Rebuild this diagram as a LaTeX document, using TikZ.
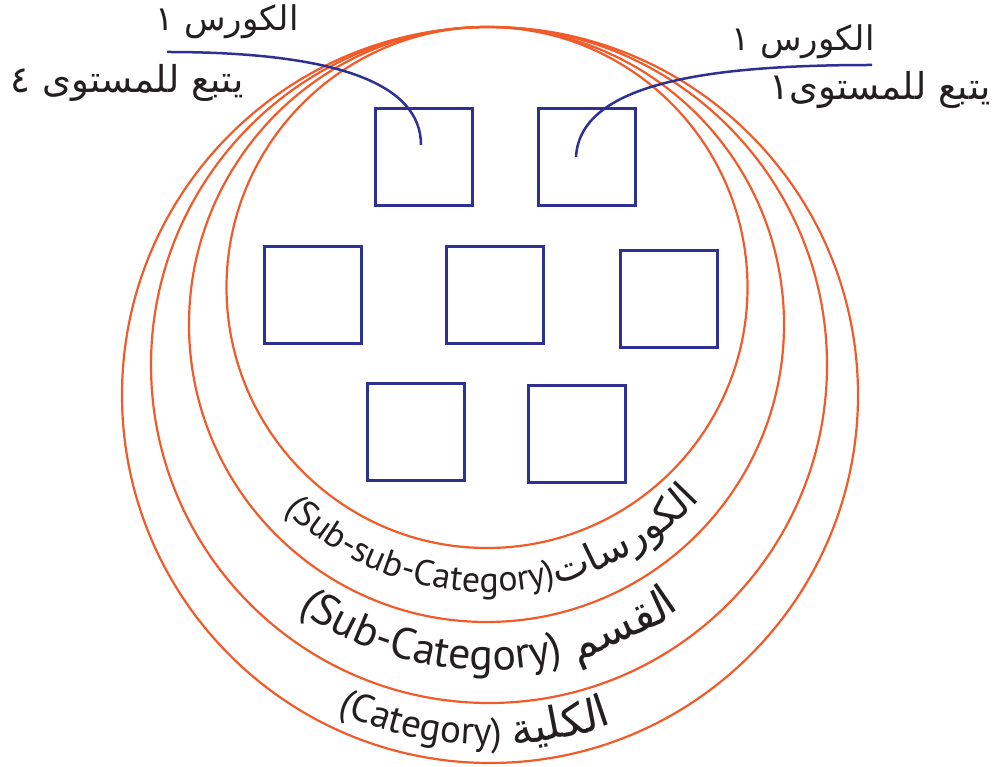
\documentclass[tikz,border=0pt]{standalone}
\usepackage{fontspec}
\setmainfont{PT Sans}
\newfontfamily\arabicfont[Script=Arabic]{DejaVu Sans}
\newfontfamily\latinfont{PT Sans}
\TeXXeTstate=1
\usetikzlibrary{decorations.text}
\definecolor{orng}{HTML}{F15A29}
\definecolor{navy}{HTML}{2E3192}
\definecolor{ink}{HTML}{231F20}
\newcommand\lblA{\latinfont\fontsize{36}{36}\selectfont}
\newcommand\lblB{\latinfont\fontsize{44}{44}\selectfont}
\newcommand\lblC{\latinfont\fontsize{39}{39}\selectfont}
\newcommand\arA{\arabicfont\fontsize{40}{40}\selectfont}
\newcommand\arB{\arabicfont\fontsize{44}{44}\selectfont}
\newcommand\arC{\arabicfont\fontsize{44}{44}\selectfont}
\begin{document}
\begin{tikzpicture}[x=1pt,y=1pt,
  ring/.style={draw=orng,line width=2.2pt,circle,inner sep=0pt},
  sq/.style={draw=navy,line width=3pt,minimum size=97pt,inner sep=0pt},
  lead/.style={draw=navy,line width=2.5pt},
  toplbl/.style={text=ink,inner sep=0pt,font=\arabicfont\fontsize{34}{36}\selectfont},
  toplbll/.style={text=ink,inner sep=0pt,font=\arabicfont\fontsize{37}{39}\selectfont},
  arclbl/.style={decorate,decoration={text along path,text color=ink,text={#1}}},
]
\useasboundingbox (0,0) rectangle (996,766);
% rings
\node[ring,minimum size=736pt] (c1) at (490,371) {};
\node[ring,minimum size=676pt] (c2) at (489,401) {};
\node[ring,minimum size=595pt] (c3) at (486.5,441.5) {};
\node[ring,minimum size=521pt] (c4) at (487,478.5) {};
% squares
\node[sq] (s1) at (423.5,608.5) {};
\node[sq] (s2) at (586.5,608.5) {};
\node[sq] (s3) at (312.5,471) {};
\node[sq] (s4) at (495,471) {};
\node[sq] (s5) at (669,467) {};
\node[sq] (s6) at (415.5,334) {};
\node[sq] (s7) at (576.5,332) {};
% leaders
\coordinate (la) at (167,714);
\coordinate (lb) at (421,621);
\coordinate (ra) at (872,701);
\coordinate (rb) at (576,609);
\draw[lead] (la) .. controls (340,714) and (421,681) .. (lb);
\draw[lead] (ra) .. controls (720,701) and (580,686) .. (rb);
% top labels
\node[toplbl] (tl1) at (227,744) {\beginR الكورس ١\endR};
\node[toplbll] (tl2) at (127,683) {\beginR يتبع للمستوى ٤\endR};
\node[toplbl] (tr1) at (803,724) {\beginR الكورس ١\endR};
\node[toplbll] (tr2) at (880,676) {\beginR يتبع للمستوى١\endR};
% arc labels
\path[arclbl={|\lblA|(Sub-sub-Category)|\arA|{ت}{سا}{ر}{لكو}{ا}}]
  (487,466) ++(226:292) arc[start angle=226,end angle=330,radius=292];
\path[arclbl={|\lblB|(Sub-Category) |\arB|{لقسم}{ا}}]
  (488,426) ++(235:330) arc[start angle=235,end angle=325,radius=330];
\path[arclbl={|\lblC|(Category) |\arC|{لكلية}{ا}}]
  (489,386) ++(245.5:365) arc[start angle=245.5,end angle=310,radius=365];
\end{tikzpicture}
\end{document}
